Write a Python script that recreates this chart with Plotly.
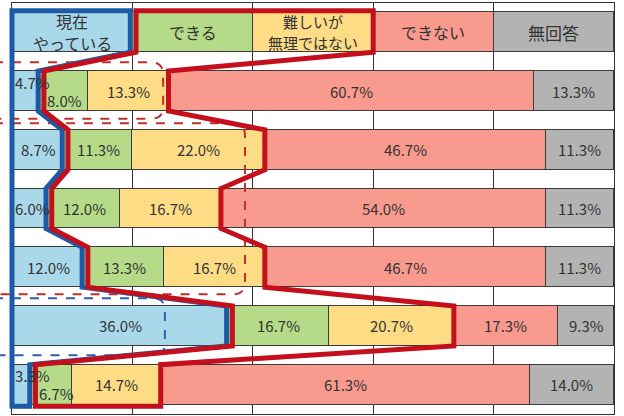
import plotly.graph_objects as go

# header row (equal-width legend boxes) and six survey rows, values in %
categories = ["現在<br>やっている", "できる", "難しいが<br>無理ではない", "できない", "無回答"]
header_share = [20, 20, 20, 20, 20]
row_ids = [1, 2, 3, 4, 5, 6]
now_doing = [4.7, 8.7, 6.0, 12.0, 36.0, 3.3]
can_do = [8.0, 11.3, 12.0, 13.3, 16.7, 6.7]
hard_but_possible = [13.3, 22.0, 16.7, 16.7, 20.7, 14.7]
cannot = [60.7, 46.7, 54.0, 46.7, 17.3, 61.3]
no_answer = [13.3, 11.3, 11.3, 11.3, 9.3, 14.0]

series = [now_doing, can_do, hard_but_possible, cannot, no_answer]
colors = ["#a9d8ea", "#b5da88", "#fddc85", "#f99a8f", "#b3b3b3"]
header_sizes = [16, 16, 15, 16, 17]

FONT = "Noto Sans CJK JP"
BAR_W = 0.68
H = BAR_W / 2

fig = go.Figure()
for j, vals in enumerate(series):
    fig.add_trace(go.Bar(
        x=[header_share[j]] + vals,
        y=[0] + row_ids,
        orientation="h",
        width=BAR_W,
        marker=dict(color=colors[j], line=dict(color="#3a3a3a", width=1)),
        hoverinfo="skip",
        showlegend=False,
    ))

annotations = []
# header labels (two-line ones are stacked as separate lines)
start = 0
for j, lab in enumerate(categories):
    lines = lab.split("<br>")
    n = len(lines)
    gap = header_sizes[j] + 6
    for k, line in enumerate(lines):
        annotations.append(dict(x=start + header_share[j] / 2, y=0, text=line, showarrow=False,
                                yshift=(n - 1) * gap / 2 - gap * k,
                                font=dict(family=FONT, size=header_sizes[j], color="#333")))
    start += header_share[j]

# value labels
for i, r in enumerate(row_ids):
    start = 0
    for j, vals in enumerate(series):
        v = vals[i]
        prev = series[j - 1][i] if j > 0 else None
        nxt = series[j + 1][i] if j < len(series) - 1 else None
        txt = f"{v:.1f}%"
        if prev is not None and prev < 7 and v < 10:
            a = dict(x=start, xanchor="left", xshift=5, yshift=-9)
        elif v < 7:
            a = dict(x=start, xanchor="left", xshift=1, yshift=9 if (nxt is not None and nxt < 10) else 0)
        else:
            a = dict(x=start + v / 2, xanchor="center")
        a.update(y=r, text=txt, showarrow=False,
                 font=dict(family=FONT, size=15, color="#333"))
        annotations.append(a)
        start += v


def px(p):
    return p / 100.0


def py(r):
    return (6.5 - r) / 7.0


shapes = []

# dashed rounded call-outs (row span, right edge in %)
rx, ry = 12 / 602, 12 / 411
dashed = [
    (0.51, 1.47, 25.1, "#c0302a"),
    (1.55, 4.46, 38.7, "#c0302a"),
    (4.53, 5.50, 25.4, "#2a62b0"),
]
for r0, r1, xr, col in dashed:
    xl = -0.03
    yt, yb, x2 = py(r0), py(r1), px(xr)
    path = (f"M {xl},{yt} L {x2 - rx},{yt} Q {x2},{yt} {x2},{yt - ry} "
            f"L {x2},{yb + ry} Q {x2},{yb} {x2 - rx},{yb} L {xl},{yb}")
    shapes.append(dict(type="path", path=path, xref="paper", yref="paper",
                       line=dict(color=col, width=2, dash="dash"), layer="above"))

# thick outline around "doing now" and around "can / possible"
blue_end = [header_share[0]] + now_doing
mid_end = [sum(header_share[:3])] + [a + b + c for a, b, c in zip(now_doing, can_do, hard_but_possible)]
rows = [0] + row_ids
ob, orr = 0.35, 0.6
ext = 0.03

pts = [(0, rows[0] - H - ext)]
for k, r in enumerate(rows):
    top = r - H - (ext if k == 0 else 0)
    bot = r + H + (ext if k == len(rows) - 1 else 0)
    pts += [(blue_end[k] - ob, top), (blue_end[k] - ob, bot)]
pts.append((0, rows[-1] + H + ext))
path = "M " + " L ".join(f"{px(a)},{py(b)}" for a, b in pts) + " Z"
shapes.append(dict(type="path", path=path, xref="paper", yref="paper",
                   line=dict(color="#1c5aa8", width=5), layer="above"))

right = []
left = []
for k, r in enumerate(rows):
    top = r - H - (ext if k == 0 else 0)
    bot = r + H + (ext if k == len(rows) - 1 else 0)
    right += [(mid_end[k], top), (mid_end[k], bot)]
    left += [(blue_end[k] + orr, top), (blue_end[k] + orr, bot)]
pts = right + left[::-1]
path = "M " + " L ".join(f"{px(a)},{py(b)}" for a, b in pts) + " Z"
shapes.append(dict(type="path", path=path, xref="paper", yref="paper",
                   line=dict(color="#c3101c", width=5), layer="above"))

fig.update_layout(
    width=624, height=416, autosize=False,
    margin=dict(l=12, r=10, t=3, b=2, pad=0),
    barmode="stack", bargap=0,
    plot_bgcolor="white", paper_bgcolor="white",
    annotations=annotations, shapes=shapes,
    xaxis=dict(range=[0, 100], dtick=20, showgrid=True, gridcolor="#333", gridwidth=1,
               zeroline=False, showticklabels=False, ticks="",
               showline=True, mirror=True, linecolor="#333", linewidth=1, fixedrange=True),
    yaxis=dict(range=[6.5, -0.5], showgrid=False, zeroline=False, showticklabels=False,
               ticks="", showline=True, mirror=True, linecolor="#333", linewidth=1,
               fixedrange=True),
)

# the page body has a default 8px margin; drop it so the chart sits at the window corner
fig.write_html("out.html", config={"displayModeBar": False},
               post_script="document.body.style.margin='0';")
